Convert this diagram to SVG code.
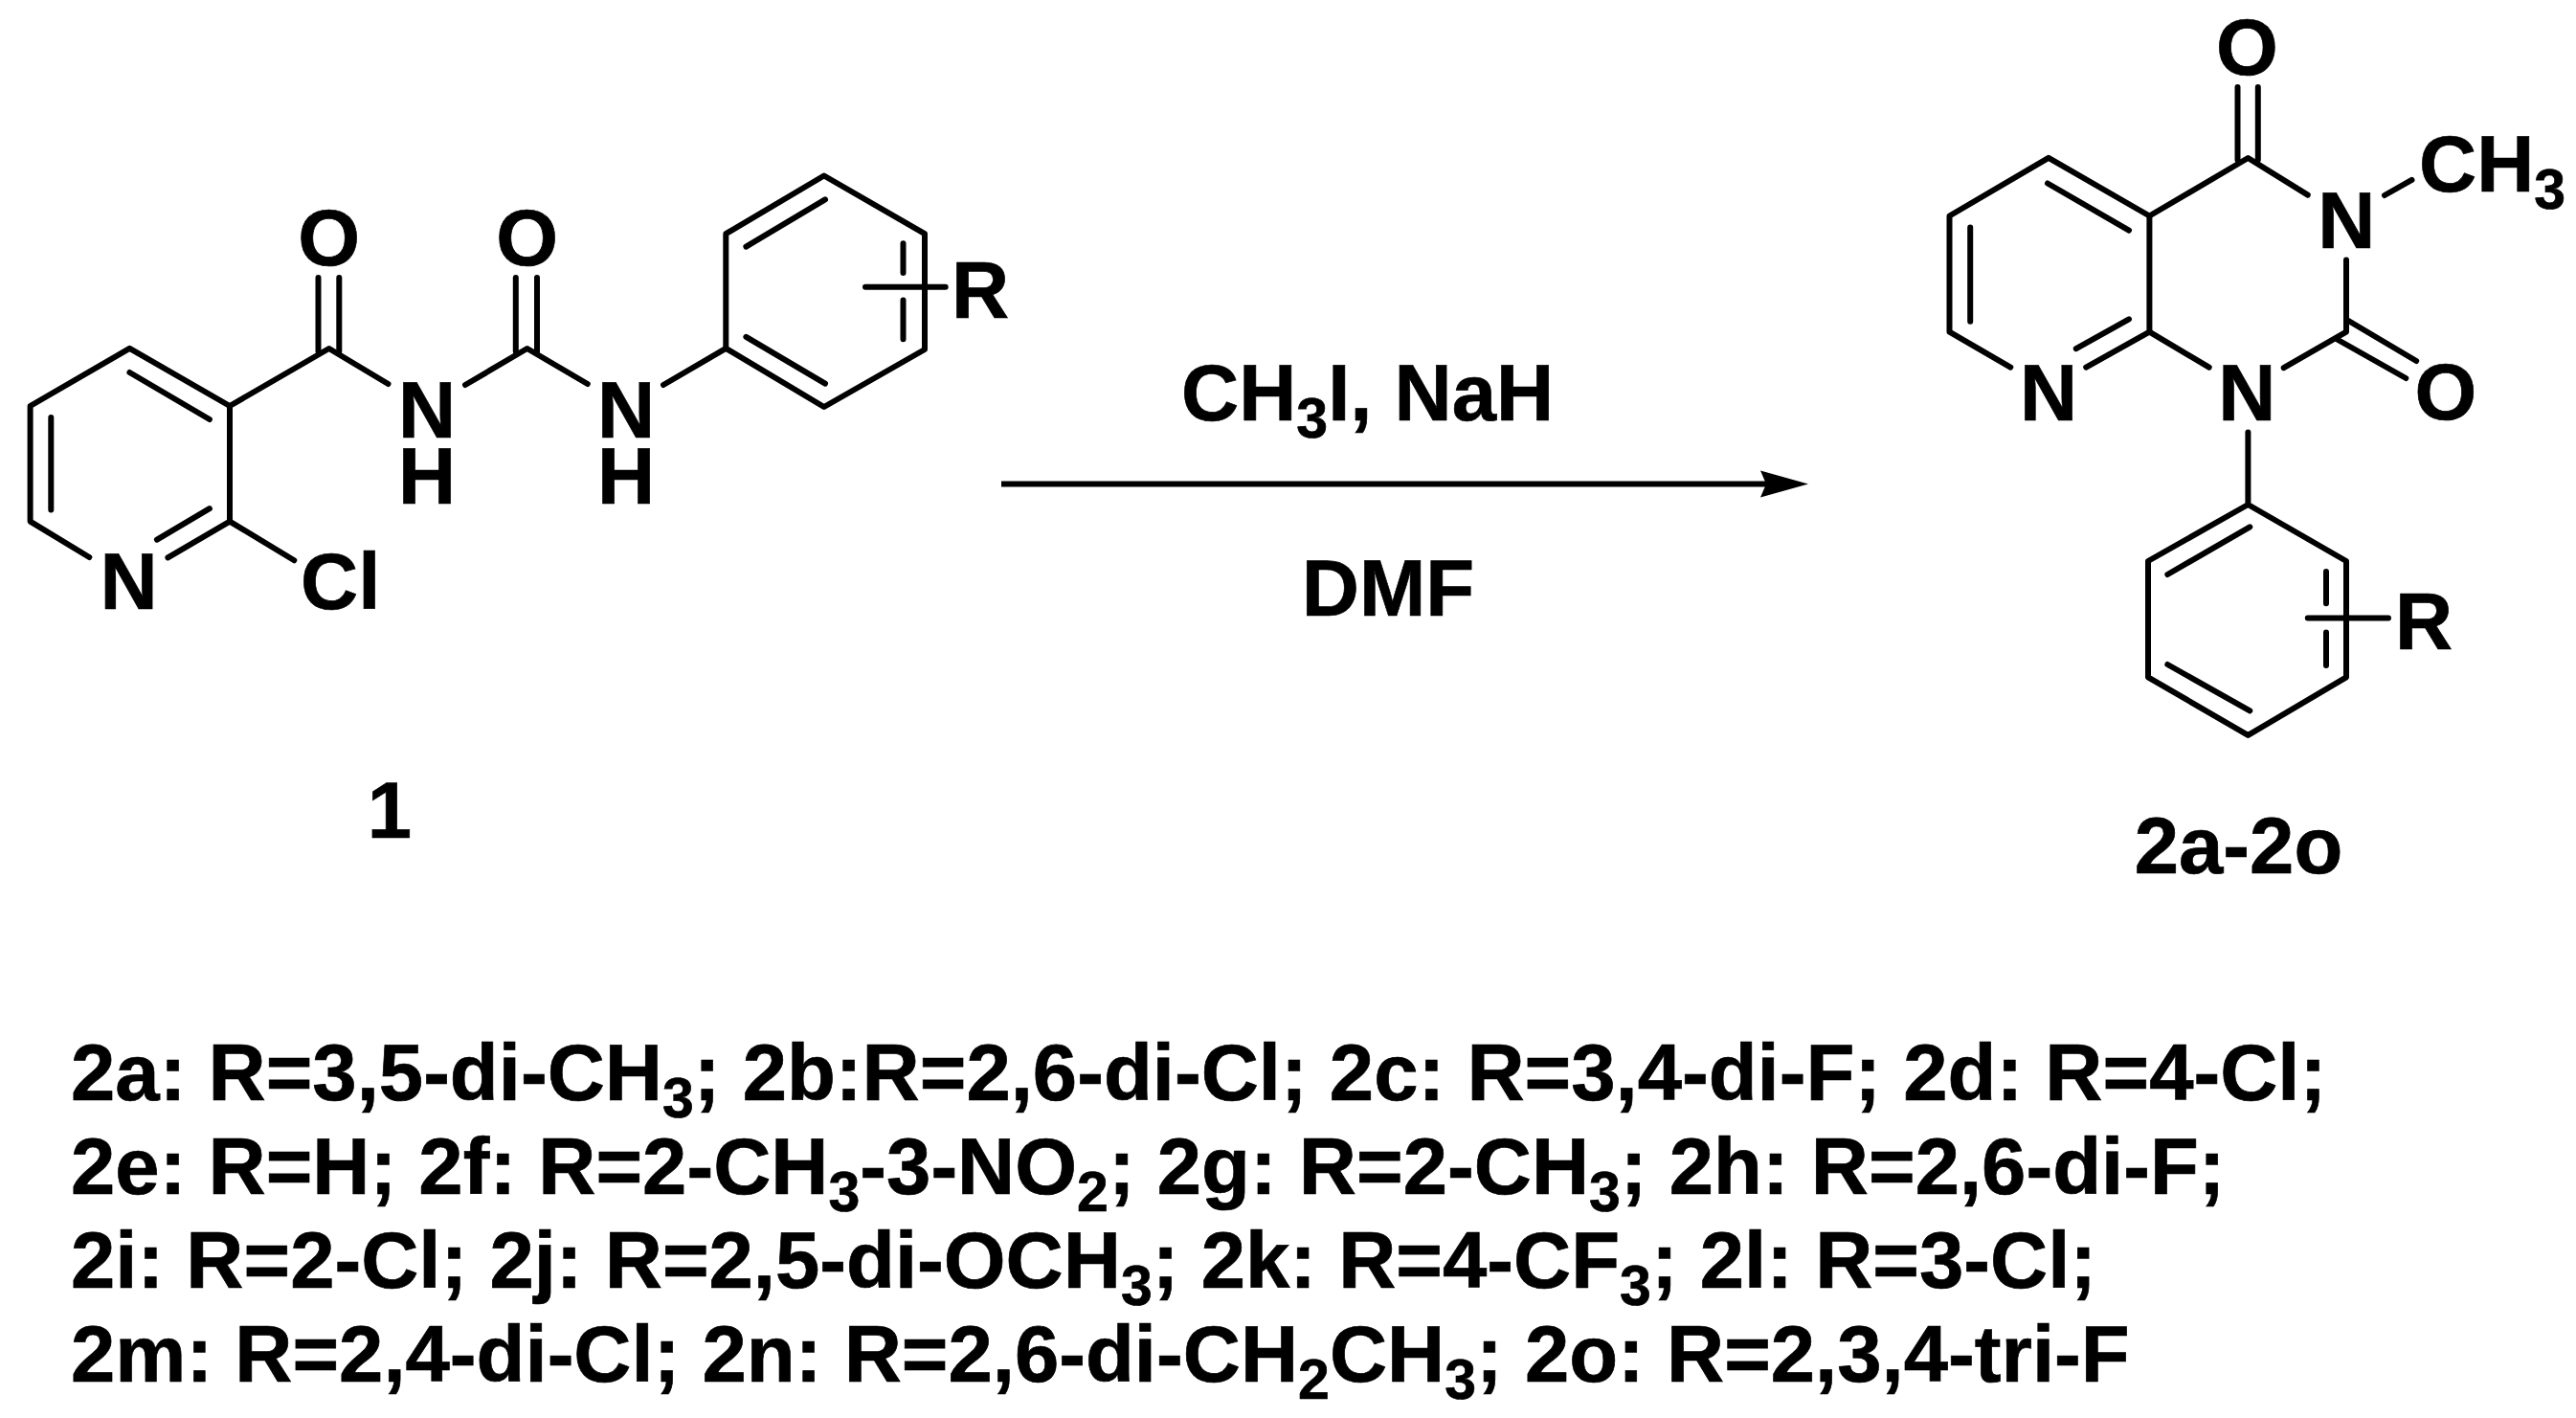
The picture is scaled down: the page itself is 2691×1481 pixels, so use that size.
<svg xmlns="http://www.w3.org/2000/svg" width="2691" height="1481" viewBox="0 0 2691 1481">
<style>
text{font-family:"Liberation Sans",Arial,sans-serif;font-weight:700;font-size:83.300px;fill:#000;stroke:#000;stroke-width:.7}
.m{text-anchor:middle}
.s{font-size:59px}
.b{fill:none;stroke:#000;stroke-width:6;stroke-linecap:round;stroke-linejoin:round}
.w{fill:none;stroke:#000;stroke-width:6}
</style>
<defs>
<marker id="head" markerUnits="userSpaceOnUse" markerWidth="52" markerHeight="30" refX="6" refY="15" orient="auto">
<path d="M0 1 L50 15 L0 29 L6 15 Z" fill="#000"/>
</marker>
</defs>
<rect width="2691" height="1481" fill="#fff"/>
<g id="compound-1">
<path class="b" d="M93.300 582 L31.600 544.600 V424 L135.400 363.800 L240 424 V544.600 L175.400 582.400"/>
<path class="b" d="M164 563.700 L218.900 531.200 M135.400 389 L218.900 438 M53.300 436 V532.600"/>
<path class="b" d="M240 544.600 L307.300 585.300 M240 424 L343.700 364 L405.500 401 M486 402 L550.700 364 L613.800 401 M693 402 L758.300 363.800"/>
<path class="b" d="M332.500 290 V367 M354.300 290 V367 M538.800 290 V367 M561 290 V367"/>
<path class="b" d="M758.300 363.800 V244.200 L860.800 183.500 L966 244.200 V365 L860.800 425 Z"/>
<path class="b" d="M779.400 257.600 L862 208.400 M779.400 351.800 L862 400.600 M943.500 254.300 V284.900 M943.500 313.600 V354.200 M904 299.700 H987.700"/>
<text class="m" x="134.700" y="636.400">N</text>
<text x="314" y="636.400">Cl</text>
<text class="m" x="343.700" y="277">O</text>
<text class="m" x="550.700" y="277">O</text>
<text class="m" x="446" y="456.600">N<tspan x="446" dy="69.800">H</tspan></text>
<text class="m" x="654" y="456.600">N<tspan x="654" dy="69.800">H</tspan></text>
<text x="994" y="331.800">R</text>
<text class="m" x="407" y="874.600">1</text>
</g>
<g id="compound-2">
<path class="b" d="M2100.300 383.600 L2036.500 346.700 V225.500 L2140 164.800 L2245.400 225.500 V346.700 L2179.200 383.600"/>
<path class="b" d="M2168.800 364.200 L2224 333.300 M2058.200 237.600 V335.800 M2139 191.500 L2224 240.600"/>
<path class="b" d="M2245.400 225.500 L2348.400 165 L2410.800 203.600 M2491 204 L2519.500 187.900 M2451 271.500 V346.700 L2385.700 384.200 M2245.400 346.700 L2307.700 383.600"/>
<path class="b" d="M2337.500 91 V167 M2358.800 91 V167 M2453.300 335 L2524.200 377 M2441.500 354.500 L2513.300 395"/>
<path class="b" d="M2348.400 451.500 V527 L2451 586 V707.300 L2348.400 767.900 L2244 707.300 V586 L2348.400 527"/>
<path class="b" d="M2264.300 600 L2350.300 550.300 M2264.300 694 L2350.300 742.400 M2430 597 V630.300 M2430 660.600 V695 M2410.800 645.500 H2495"/>
<text class="m" x="2347.500" y="78">O</text>
<text class="m" x="2451.400" y="259.400">N</text>
<text x="2527" y="200">CH<tspan class="s" dy="18">3</tspan></text>
<text class="m" x="2554.800" y="438">O</text>
<text class="m" x="2347.400" y="439.400">N</text>
<text class="m" x="2140.200" y="439.400">N</text>
<text x="2502" y="677.600">R</text>
<text class="m" x="2338.500" y="912">2a-2o</text>
</g>
<g id="connectors">
<line class="w" x1="1046" y1="505.500" x2="1845" y2="505.500" marker-end="url(#head)"/>
</g>
<g id="reagents">
<text x="1234" y="439.300">CH<tspan class="s" dy="18">3</tspan><tspan dy="-18">I, NaH</tspan></text>
<text class="m" x="1450" y="642.700">DMF</text>
</g>
<g id="legend">
<text x="74" y="1149.300">2a: R=3,5-di-CH<tspan class="s" dy="18">3</tspan><tspan dy="-18">; 2b:R=2,6-di-Cl; 2c: R=3,4-di-F; 2d: R=4-Cl;</tspan></text>
<text x="74" y="1246.700">2e: R=H; 2f: R=2-CH<tspan class="s" dy="18">3</tspan><tspan dy="-18">-3-NO</tspan><tspan class="s" dy="18">2</tspan><tspan dy="-18">; 2g: R=2-CH</tspan><tspan class="s" dy="18">3</tspan><tspan dy="-18">; 2h: R=2,6-di-F;</tspan></text>
<text x="74" y="1345">2i: R=2-Cl; 2j: R=2,5-di-OCH<tspan class="s" dy="18">3</tspan><tspan dy="-18">; 2k: R=4-CF</tspan><tspan class="s" dy="18">3</tspan><tspan dy="-18">; 2l: R=3-Cl;</tspan></text>
<text x="74" y="1442.700">2m: R=2,4-di-Cl; 2n: R=2,6-di-CH<tspan class="s" dy="18">2</tspan><tspan dy="-18">CH</tspan><tspan class="s" dy="18">3</tspan><tspan dy="-18">; 2o: R=2,3,4-tri-F</tspan></text>
</g>
</svg>
